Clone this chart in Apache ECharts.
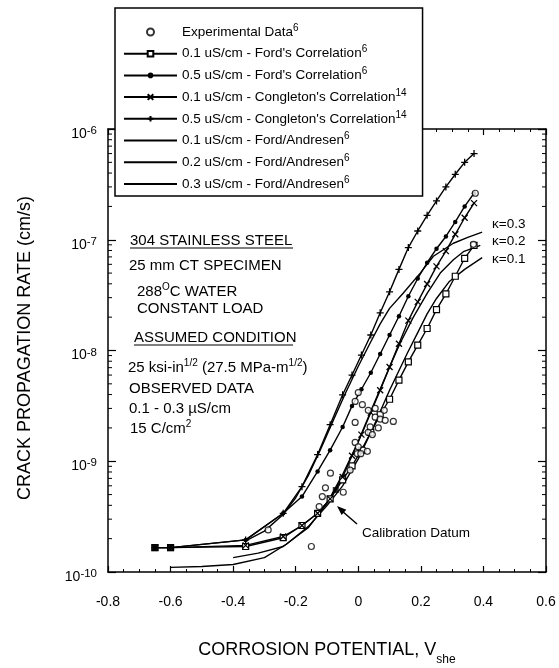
<!DOCTYPE html>
<html><head><meta charset="utf-8">
<script src="https://cdn.jsdelivr.net/npm/echarts@6/dist/echarts.min.js"></script>
<style>html,body{margin:0;padding:0;background:#fff}#c{width:559px;height:668px}</style>
</head><body><div id="c"></div>
<script>
// ---- data (corrosion potential V_she, crack propagation rate cm/s) ----
const potential = [-0.65, -0.6, -0.36, -0.24, -0.18, -0.13, -0.09, -0.05, -0.02, 0.01, 0.04, 0.07, 0.1, 0.13, 0.16, 0.19, 0.22, 0.25, 0.28, 0.31, 0.34, 0.37];
const ford01 = [1.66e-10, 1.66e-10, 1.70e-10, 2.04e-10, 2.63e-10, 3.39e-10, 4.57e-10, 6.8e-10, 9.1e-10, 1.26e-9, 1.82e-9, 2.63e-9, 3.63e-9, 5.4e-9, 7.9e-9, 1.12e-8, 1.58e-8, 2.34e-8, 3.24e-8, 4.68e-8, 6.8e-8, 8.9e-8];
const ford05 = [1.66e-10, 1.66e-10, 1.95e-10, 3.39e-10, 4.8e-10, 8.1e-10, 1.26e-9, 2.04e-9, 3.16e-9, 4.47e-9, 6.3e-9, 9.3e-9, 1.38e-8, 2.04e-8, 3.09e-8, 4.47e-8, 6.2e-8, 8.3e-8, 1.07e-7, 1.45e-7, 2.0e-7, 2.63e-7];
const cong01 = [1.66e-10, 1.66e-10, 1.74e-10, 2.09e-10, 2.63e-10, 3.39e-10, 4.57e-10, 7.2e-10, 1.12e-9, 1.74e-9, 2.75e-9, 4.37e-9, 7.1e-9, 1.15e-8, 1.86e-8, 2.75e-8, 3.98e-8, 5.75e-8, 7.9e-8, 1.12e-7, 1.58e-7, 2.14e-7];
const cong05 = [1.66e-10, 1.66e-10, 1.95e-10, 3.39e-10, 5.9e-10, 1.15e-9, 2.14e-9, 3.98e-9, 6.0e-9, 9.1e-9, 1.38e-8, 2.19e-8, 3.39e-8, 5.4e-8, 8.5e-8, 1.2e-7, 1.66e-7, 2.24e-7, 3.0e-7, 3.9e-7, 5.0e-7, 6.0e-7];

const faPot01 = [-0.6, -0.5, -0.4, -0.3, -0.23, -0.16, -0.1, -0.05, 0, 0.05, 0.1, 0.157, 0.19, 0.22, 0.25, 0.29, 0.34, 0.396];
const fa01 = [1.10e-10, 1.12e-10, 1.17e-10, 1.35e-10, 1.78e-10, 2.57e-10, 3.98e-10, 6.0e-10, 1.05e-9, 2.09e-9, 4.37e-9, 9.5e-9, 1.45e-8, 2.14e-8, 2.95e-8, 4.17e-8, 5.4e-8, 6.9e-8];
const faPot02 = [-0.4, -0.32, -0.24, -0.16, -0.1, -0.05, 0, 0.05, 0.109, 0.134, 0.176, 0.221, 0.262, 0.304, 0.336, 0.39];
const fa02 = [1.35e-10, 1.48e-10, 1.70e-10, 2.51e-10, 4.17e-10, 7.6e-10, 1.51e-9, 3.31e-9, 8.1e-9, 1.17e-8, 2.0e-8, 3.31e-8, 5.0e-8, 6.6e-8, 7.8e-8, 8.9e-8];
const faPot03 = [-0.36, -0.3, -0.24, -0.2, -0.16, -0.12, -0.08, -0.04, 0, 0.04, 0.07, 0.1, 0.144, 0.198, 0.24, 0.304, 0.35, 0.396];
const fa03 = [1.91e-10, 2.34e-10, 3.31e-10, 4.68e-10, 7.4e-10, 1.29e-9, 2.34e-9, 4.17e-9, 7.2e-9, 1.2e-8, 1.74e-8, 2.4e-8, 3.31e-8, 5.0e-8, 7.1e-8, 9.3e-8, 1.05e-7, 1.17e-7];

const expPot = [-0.288, -0.15, -0.125, -0.115, -0.105, -0.089, -0.048, -0.026, -0.01, 0, 0.016, 0.029, -0.003, 0.008, 0.032, 0.045, 0.038, 0.064, -0.01, 0.054, 0.07, 0.086, 0.112, 0.032, 0.054, 0.083, 0.013, -0.01, 0, 0.368, 0.374];
const expRate = [2.4e-10, 1.7e-10, 3.9e-10, 4.8e-10, 5.75e-10, 7.8e-10, 5.25e-10, 8.3e-10, 1.48e-9, 1.35e-9, 1.26e-9, 1.23e-9, 1.17e-9, 1.17e-9, 1.82e-9, 1.74e-9, 2.04e-9, 2.0e-9, 2.24e-9, 2.5e-9, 2.4e-9, 2.34e-9, 2.29e-9, 2.88e-9, 3.0e-9, 2.88e-9, 3.24e-9, 3.47e-9, 4.17e-9, 9.1e-8, 2.63e-7];

const calPot = [-0.072];
const calRate = [5.5e-10];
const startPot = [-0.65, -0.6];
const startRate = [1.66e-10, 1.66e-10];

const xTickLabels = ['-0.8', '-0.6', '-0.4', '-0.2', '0', '0.2', '0.4', '0.6'];
const yTickExps = ['-10', '-9', '-8', '-7', '-6'];

const seriesNames = ['Experimental Data', "0.1 uS/cm - Ford's Correlation", "0.5 uS/cm - Ford's Correlation",
  "0.1 uS/cm - Congleton's Correlation", "0.5 uS/cm - Congleton's Correlation",
  '0.1 uS/cm - Ford/Andresen', '0.2 uS/cm - Ford/Andresen', '0.3 uS/cm - Ford/Andresen'];

// ---- build ----
const FF = '"Liberation Sans", Arial, Helvetica, sans-serif';
const zip = (xs, ys) => xs.map((x, i) => [x, ys[i]]);
const minorTickVals = [];
for (let n = -10; n <= -7; n++) for (let k = 2; k <= 9; k++) minorTickVals.push([-0.8, k * Math.pow(10, n)]);

const LS = {color: '#000', width: 1.4};
const lineSeries = (name, xs, ys, symbol, size, itemStyle) => ({
  name, type: 'line', data: zip(xs, ys), symbol, symbolSize: size,
  lineStyle: LS, itemStyle, emphasis: {disabled: true}, z: 3
});

const chart = echarts.init(document.getElementById('c'));
const xAxisBase = {
  type: 'value', min: -0.8, max: 0.6, interval: 0.2,
  axisLine: {show: true, onZero: false, lineStyle: {color: '#000', width: 1.5}},
  axisTick: {show: true, inside: true, length: 6, lineStyle: {color: '#000', width: 1.2}},
  minorTick: {show: true, splitNumber: 4, length: 3, lineStyle: {color: '#000', width: 1}},
  splitLine: {show: false}
};
const yAxisBase = {
  type: 'log', logBase: 10, min: 1e-10, max: 1e-6,
  axisLine: {show: true, onZero: false, lineStyle: {color: '#000', width: 1.5}},
  axisTick: {show: true, inside: true, length: 8, lineStyle: {color: '#000', width: 1.2}},
  splitLine: {show: false}
};
const sup = (t) => ({fontSize: t, verticalAlign: 'top', fontFamily: FF, color: '#000'});

const legendData = seriesNames.map((n, i) => i >= 5 ? {name: n, itemStyle: {opacity: 0}} : {name: n});

chart.setOption({
  animation: false,
  grid: {left: 108, right: 13, top: 129, bottom: 96},
  xAxis: [
    Object.assign({}, xAxisBase, {position: 'bottom',
      axisLabel: {color: '#000', fontFamily: FF, fontSize: 14, margin: 23,
        formatter: v => xTickLabels[Math.round((v + 0.8) / 0.2)]}}),
    Object.assign({}, xAxisBase, {position: 'top', axisLabel: {show: false}})
  ],
  yAxis: [
    Object.assign({}, yAxisBase, {position: 'left',
      axisLabel: {color: '#000', margin: 11, padding: [10, 0, 0, 0],
        formatter: v => '{b|10}{s|' + yTickExps[Math.round(Math.log10(v)) + 10] + '}',
        rich: {b: {fontSize: 14, lineHeight: 18, fontFamily: FF, color: '#000'}, s: sup(11.5)}}}),
    Object.assign({}, yAxisBase, {position: 'right', axisLabel: {show: false}})
  ],
  legend: {
    data: legendData, orient: 'vertical', left: 115, top: 8,
    itemWidth: 53, itemHeight: 7, itemGap: 5.7, padding: [15, 16, 5, 8],
    backgroundColor: '#fff', borderColor: '#000', borderWidth: 1.5, borderRadius: 0,
    selectedMode: false, z: 10,
    formatter: name => '{t|' + name + '}{s|' + (name.indexOf('Congleton') >= 0 ? '14' : '6') + '}',
    textStyle: {color: '#000', fontFamily: FF, fontSize: 13.5,
      rich: {t: {fontSize: 13.5, lineHeight: 18, fontFamily: FF, color: '#000'}, s: sup(10)}}
  },
  series: [
    {name: seriesNames[0], type: 'scatter', data: zip(expPot, expRate), symbol: 'circle', symbolSize: 6,
      itemStyle: {color: '#fff', borderColor: '#000', borderWidth: 1.2}, z: 4, emphasis: {disabled: true}},
    lineSeries(seriesNames[1], potential, ford01, 'rect', 6, {color: '#fff', borderColor: '#000', borderWidth: 1.2}),
    lineSeries(seriesNames[2], potential, ford05, 'circle', 4.5, {color: '#000'}),
    lineSeries(seriesNames[3], potential, cong01, 'path://M0,0L8,8M8,0L0,8', 6, {color: '#000', borderColor: '#000', borderWidth: 1.3}),
    lineSeries(seriesNames[4], potential, cong05, 'path://M4,0L4,8M0,4L8,4', 7, {color: '#000', borderColor: '#000', borderWidth: 1.3}),
    lineSeries(seriesNames[5], faPot01, fa01, 'none', 0, {color: '#000', opacity: 0}),
    lineSeries(seriesNames[6], faPot02, fa02, 'none', 0, {color: '#000', opacity: 0}),
    lineSeries(seriesNames[7], faPot03, fa03, 'none', 0, {color: '#000', opacity: 0}),
    {name: 'Calibration Datum', type: 'scatter', data: zip(calPot, calRate), symbol: 'rect', symbolSize: 6,
      itemStyle: {color: '#000'}, z: 5, emphasis: {disabled: true}},
    {name: 'Start', type: 'scatter', data: zip(startPot, startRate), symbol: 'rect', symbolSize: 7,
      itemStyle: {color: '#000'}, z: 5, emphasis: {disabled: true}},
    {name: 'minorTicks', type: 'custom', data: minorTickVals, clip: false, silent: true, z: 1,
      renderItem: (params, api) => {
        const v = api.value(1);
        const pL = api.coord([-0.8, v]);
        const pR = api.coord([0.6, v]);
        return {type: 'group', children: [
          {type: 'line', shape: {x1: pL[0], y1: pL[1], x2: pL[0] + 4, y2: pL[1]}, style: {stroke: '#000', lineWidth: 1}},
          {type: 'line', shape: {x1: pR[0] - 4, y1: pR[1], x2: pR[0], y2: pR[1]}, style: {stroke: '#000', lineWidth: 1}}
        ]};
      }}
  ],
  graphic: [
    {type: 'text', x: 25, y: 348, rotation: Math.PI / 2,
      style: {text: 'CRACK PROPAGATION RATE (cm/s)', fontSize: 18, fontFamily: FF, fill: '#000', align: 'center', verticalAlign: 'middle'}},
    {type: 'text', x: 327, y: 650,
      style: {text: '{a|CORROSION POTENTIAL, V}{b|she}', align: 'center', verticalAlign: 'middle',
        rich: {a: {fontSize: 18, lineHeight: 32, fontFamily: FF, fill: '#000'}, b: {fontSize: 12, verticalAlign: 'bottom', fontFamily: FF, fill: '#000'}}}},
    {type: 'text', x: 130, y: 241, style: {text: '304 STAINLESS STEEL', fontSize: 15, fontFamily: FF, fill: '#000', verticalAlign: 'middle'}},
    {type: 'line', shape: {x1: 130, y1: 248, x2: 293, y2: 248}, style: {stroke: '#000', lineWidth: 1.2}},
    {type: 'text', x: 129, y: 266, style: {text: '25 mm CT SPECIMEN', fontSize: 15, fontFamily: FF, fill: '#000', verticalAlign: 'middle'}},
    {type: 'text', x: 137, y: 292, style: {text: '{n|288}{s|O}{n|C WATER}', verticalAlign: 'middle',
      rich: {n: {fontSize: 15, lineHeight: 20, fontFamily: FF, fill: '#000'}, s: {fontSize: 10, verticalAlign: 'top', fontFamily: FF, fill: '#000'}}}},
    {type: 'text', x: 137, y: 309, style: {text: 'CONSTANT LOAD', fontSize: 15, fontFamily: FF, fill: '#000', verticalAlign: 'middle'}},
    {type: 'text', x: 134, y: 338, style: {text: 'ASSUMED CONDITION', fontSize: 15, fontFamily: FF, fill: '#000', verticalAlign: 'middle'}},
    {type: 'line', shape: {x1: 134, y1: 345, x2: 293, y2: 345}, style: {stroke: '#000', lineWidth: 1.2}},
    {type: 'text', x: 128, y: 368, style: {text: '{n|25 ksi-in}{s|1/2}{n| (27.5 MPa-m}{s|1/2}{n|)}', verticalAlign: 'middle',
      rich: {n: {fontSize: 15, lineHeight: 20, fontFamily: FF, fill: '#000'}, s: {fontSize: 10, verticalAlign: 'top', fontFamily: FF, fill: '#000'}}}},
    {type: 'text', x: 129, y: 389, style: {text: 'OBSERVED DATA', fontSize: 15, fontFamily: FF, fill: '#000', verticalAlign: 'middle'}},
    {type: 'text', x: 129, y: 409, style: {text: '0.1 - 0.3 \u00b5S/cm', fontSize: 15, fontFamily: FF, fill: '#000', verticalAlign: 'middle'}},
    {type: 'text', x: 130, y: 429, style: {text: '{n|15 C/cm}{s|2}', verticalAlign: 'middle',
      rich: {n: {fontSize: 15, lineHeight: 20, fontFamily: FF, fill: '#000'}, s: {fontSize: 10, verticalAlign: 'top', fontFamily: FF, fill: '#000'}}}},
    {type: 'text', x: 492, y: 224, style: {text: '\u03ba=0.3', fontSize: 13.5, fontFamily: FF, fill: '#000', verticalAlign: 'middle'}},
    {type: 'text', x: 492, y: 241, style: {text: '\u03ba=0.2', fontSize: 13.5, fontFamily: FF, fill: '#000', verticalAlign: 'middle'}},
    {type: 'text', x: 492, y: 259, style: {text: '\u03ba=0.1', fontSize: 13.5, fontFamily: FF, fill: '#000', verticalAlign: 'middle'}},
    {type: 'text', x: 362, y: 533, style: {text: 'Calibration Datum', fontSize: 13.5, fontFamily: FF, fill: '#000', verticalAlign: 'middle'}},
    {type: 'line', shape: {x1: 357, y1: 524, x2: 342, y2: 511}, style: {stroke: '#000', lineWidth: 1.5}},
    {type: 'polygon', shape: {points: [[337, 506], [346.3, 509.7], [341.6, 515]]}, style: {fill: '#000'}}
  ]
});
</script></body></html>
